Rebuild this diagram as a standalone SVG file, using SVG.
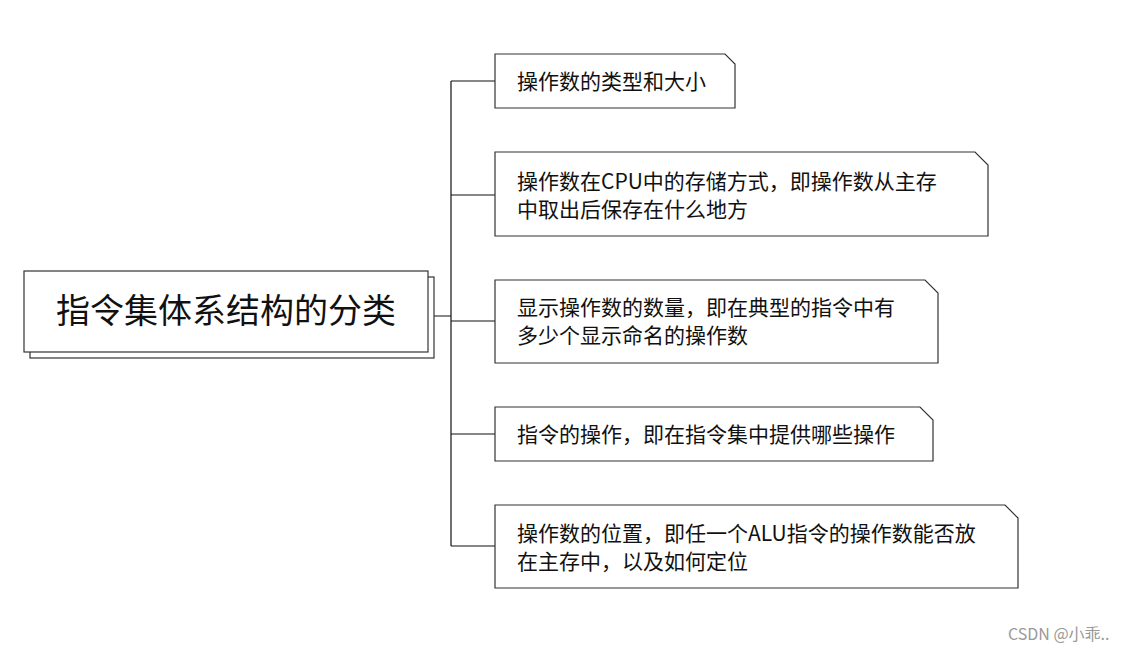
<svg xmlns="http://www.w3.org/2000/svg" width="1146" height="652" viewBox="0 0 1146 652">
<style>
.n{fill:#fff;stroke:#333;stroke-width:1.2}
.t{font-family:"Noto Sans CJK SC","Liberation Sans",sans-serif;font-size:21px;fill:#111}
.c{fill:none;stroke:#111;stroke-width:1.2}
</style>
<rect width="1146" height="652" fill="#fff"/>
<g id="connectors">
<path class="c" d="M434 316H451M451 81V546M451 81H495M451 195H495M451 321H495M451 434H495M451 546H495"/>
</g>
<g id="root">
<rect class="n" x="30" y="277" width="404" height="81"/>
<rect class="n" x="24" y="271" width="404" height="81"/>
<text x="226" y="323" text-anchor="middle" style="font-family:'Noto Sans CJK SC',sans-serif;font-size:34px;fill:#111">指令集体系结构的分类</text>
</g>
<g id="n1">
<path class="n" d="M495 54H725L735 64V108H495Z"/>
<text class="t" x="517" y="89">操作数的类型和大小</text>
</g>
<g id="n2">
<path class="n" d="M495 152H975L988 165V236H495Z"/>
<text class="t" x="517" y="189">操作数在CPU中的存储方式，即操作数从主存</text>
<text class="t" x="517" y="217">中取出后保存在什么地方</text>
</g>
<g id="n3">
<path class="n" d="M495 280H925L938 293V363H495Z"/>
<text class="t" x="517" y="315">显示操作数的数量，即在典型的指令中有</text>
<text class="t" x="517" y="343">多少个显示命名的操作数</text>
</g>
<g id="n4">
<path class="n" d="M495 407H920L933 420V461H495Z"/>
<text class="t" x="517" y="442">指令的操作，即在指令集中提供哪些操作</text>
</g>
<g id="n5">
<path class="n" d="M495 505H1005L1018 518V588H495Z"/>
<text class="t" x="517" y="541">操作数的位置，即任一个ALU指令的操作数能否放</text>
<text class="t" x="517" y="569">在主存中，以及如何定位</text>
</g>
<text x="1008" y="640" style="font-family:'Noto Sans CJK SC',sans-serif;font-size:16px;fill:#999">CSDN @小乖..</text>
</svg>
